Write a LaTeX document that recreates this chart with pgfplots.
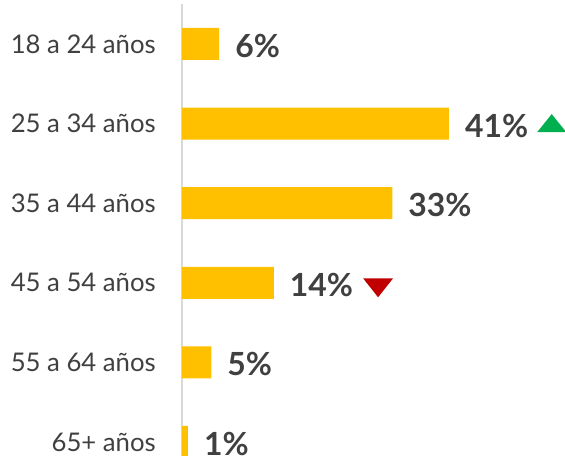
\documentclass[border=0pt]{standalone}
\usepackage{pgfplots}
\pgfplotsset{compat=1.18}
\usepackage{fontspec}
\setmainfont{Lato}
\definecolor{baryellow}{HTML}{FFC000}
\definecolor{txt}{HTML}{404040}
\definecolor{upgreen}{HTML}{00B050}
\definecolor{downred}{HTML}{C00000}
\definecolor{axgrey}{HTML}{D9D9D9}
\newcommand{\up}{\hspace{9bp}\tikz[baseline=0pt,reset cm]\fill[upgreen] (0bp,5bp)--(29bp,5bp)--(14.5bp,23bp)--cycle;}
\newcommand{\down}{\hspace{10bp}\tikz[baseline=0pt,reset cm]\fill[downred] (0bp,18bp)--(30bp,18bp)--(15bp,-1bp)--cycle;}
\begin{document}
\begin{tikzpicture}
\begin{axis}[name=ax, x=6.51bp, y=79.6bp, xmin=0, xmax=58.83, ymin=-0.176, ymax=5.50,
  xbar, bar width=32bp,
  axis x line=none, axis y line*=left,
  y axis line style={axgrey, line width=2bp, -},
  ytick={0,...,5},
  yticklabels={65+ años, 55 a 64 años, 45 a 54 años, 35 a 44 años, 25 a 34 años, 18 a 24 años},
  yticklabel style={anchor=east, inner sep=0pt, xshift=-26bp, font=\fontsize{25.8}{26}\selectfont, text=txt},
  major tick length=0,
  nodes near coords, point meta=explicit symbolic,
  every node near coord/.append style={anchor=base west, inner sep=0pt, xshift=16bp, yshift=-13.5bp, font=\fontsize{32}{32}\selectfont\bfseries, text=txt},
  clip=false]
\addplot[fill=baryellow, draw=none] coordinates {(5.7,5)[6\%] (41,4)[41\%\up] (32.3,3)[33\%] (14.1,2)[14\%\down] (4.5,1)[5\%] (0.9,0)[1\%]};
\end{axis}
\pgfresetboundingbox
\path[use as bounding box] ([xshift=-182bp]ax.south west) rectangle ([xshift=383bp, yshift=456bp]ax.south west);
\end{tikzpicture}
\end{document}
